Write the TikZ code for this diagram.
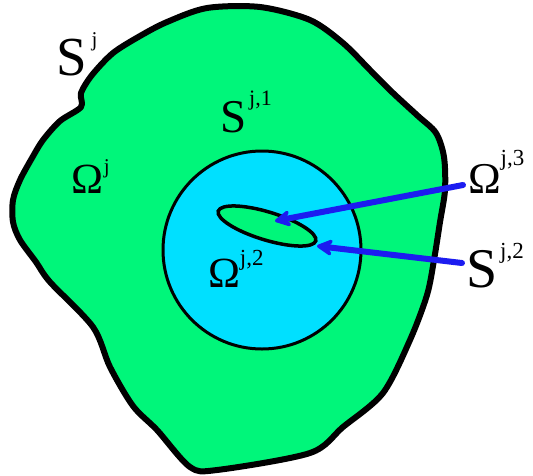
\documentclass[tikz,border=0pt]{standalone}
\usepackage{fontspec}
\setmainfont{Liberation Serif}
\usetikzlibrary{arrows.meta}
\definecolor{blobgreen}{RGB}{0,246,122}
\definecolor{disccyan}{RGB}{0,224,255}
\definecolor{arrowblue}{RGB}{28,28,240}
% #1 base size, #2 base letter, #3 gap, #4 sup size, #5 raise, #6 sup text
\newcommand{\mylbl}[6]{{\fontsize{#1}{#1}\selectfont #2}\hspace{#3}\raisebox{#5}{\fontsize{#4}{#4}\selectfont #6}}
\tikzset{
  lbl/.style={anchor=base west, inner sep=0pt, outer sep=0pt, text=black},
  pointer/.style={draw=arrowblue, line width=6pt, line cap=round,
    -{Stealth[length=20pt, width=21pt, inset=7pt, round]}},
}
\begin{document}
\begin{tikzpicture}[x=1pt, y=-1pt]
\useasboundingbox (0,0) rectangle (533,475);
% outer region
\draw[line width=6pt, fill=blobgreen, line join=round]
  plot[smooth cycle, tension=0.5] coordinates {
    (207,8) (260,7) (310,20) (343,43) (370,70) (393,93) (418,116)
    (436,133) (444,157) (445,190) (440,222) (434,260) (427,295)
    (410,340) (383,393) (343,427) (310,453)
    (217,470) (190,467) (157,430) (133,406) (110,367) (93,327)
    (50,282) (36,262) (20,240) (13,222) (13,200) (20,180) (32,158)
    (43,140) (60,121) (81,107) (81,93) (92,75) (113,53) (140,36) (167,22)};
% inner disc
\node[circle, draw=black, line width=3pt, fill=disccyan, minimum size=198pt, inner sep=0pt] (disc) at (262,250) {};
% small ellipse
\draw[line width=3.5pt, fill=blobgreen, rotate around={-17:(267,226)}]
  (267,226) ellipse [x radius=51, y radius=14];
\coordinate (tip3) at (275,221);
\coordinate (tip2) at (317,246);
% labels
\node[lbl] (sj) at (56,75) {\mylbl{55}{S}{5pt}{21}{29pt}{j}};
\node[lbl] (sj1) at (220,132) {\mylbl{47}{S}{3pt}{22}{27pt}{j,1}};
\node[lbl] (oj) at (71,193) {\mylbl{43}{Ω}{1pt}{21}{20pt}{j}};
\node[lbl] (oj2) at (208,287) {\mylbl{43}{Ω}{0pt}{23}{22pt}{j,2}};
\node[lbl] (oj3) at (468,193) {\mylbl{44}{Ω}{0pt}{23}{28pt}{j,3}};
\node[lbl] (sj2) at (466,287) {\mylbl{56}{S}{3pt}{23}{29pt}{j,2}};
% arrows
\draw[pointer] ([shift={(-5,-8)}]oj3.base west) -- (tip3);
\draw[pointer] ([shift={(-4,-24)}]sj2.base west) -- (tip2);
\end{tikzpicture}
\end{document}
